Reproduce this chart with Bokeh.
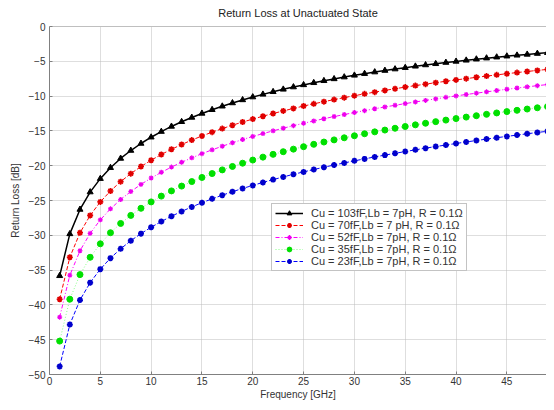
from bokeh.plotting import figure
from bokeh.models import Range1d, Legend, LegendItem, FixedTicker, Span
from bokeh.embed import file_html
from bokeh.resources import INLINE

freq_ghz = list(range(1, 51))

rl_103ff = [-35.82, -29.80, -26.29, -23.79, -21.86, -20.29, -18.96, -17.82, -16.81, -15.91,
            -15.10, -14.36, -13.69, -13.07, -12.49, -11.96, -11.46, -10.99, -10.55, -10.14,
            -9.75, -9.38, -9.03, -8.70, -8.39, -8.09, -7.80, -7.53, -7.27, -7.02,
            -6.78, -6.55, -6.33, -6.12, -5.92, -5.72, -5.53, -5.36, -5.18, -5.02,
            -4.86, -4.70, -4.55, -4.41, -4.27, -4.14, -4.01, -3.89, -3.77, -3.65]
rl_70ff = [-39.18, -33.16, -29.64, -27.14, -25.20, -23.63, -22.29, -21.14, -20.12, -19.21,
           -18.39, -17.64, -16.96, -16.32, -15.73, -15.18, -14.67, -14.18, -13.73, -13.30,
           -12.89, -12.50, -12.13, -11.77, -11.43, -11.11, -10.80, -10.50, -10.22, -9.94,
           -9.68, -9.43, -9.18, -8.94, -8.71, -8.49, -8.28, -8.07, -7.87, -7.67,
           -7.49, -7.30, -7.13, -6.95, -6.78, -6.62, -6.46, -6.31, -6.16, -6.01]
rl_52ff = [-41.76, -35.74, -32.22, -29.72, -27.78, -26.20, -24.86, -23.71, -22.69, -21.77,
           -20.95, -20.20, -19.51, -18.87, -18.27, -17.72, -17.20, -16.71, -16.24, -15.80,
           -15.39, -14.99, -14.61, -14.25, -13.90, -13.57, -13.25, -12.94, -12.65, -12.36,
           -12.09, -11.82, -11.56, -11.32, -11.08, -10.84, -10.62, -10.40, -10.18, -9.97,
           -9.77, -9.58, -9.39, -9.20, -9.02, -8.84, -8.67, -8.50, -8.34, -8.18]
rl_35ff = [-45.20, -39.18, -35.65, -33.16, -31.22, -29.63, -28.30, -27.14, -26.12, -25.20,
           -24.37, -23.62, -22.93, -22.28, -21.69, -21.13, -20.60, -20.11, -19.64, -19.19,
           -18.77, -18.37, -17.99, -17.62, -17.27, -16.93, -16.60, -16.29, -15.99, -15.70,
           -15.41, -15.14, -14.88, -14.62, -14.37, -14.13, -13.90, -13.67, -13.45, -13.23,
           -13.02, -12.82, -12.62, -12.42, -12.23, -12.04, -11.86, -11.68, -11.51, -11.34]
rl_23ff = [-48.84, -42.82, -39.30, -36.80, -34.86, -33.28, -31.94, -30.78, -29.76, -28.84,
           -28.02, -27.26, -26.57, -25.92, -25.32, -24.76, -24.24, -23.74, -23.27, -22.83,
           -22.40, -22.00, -21.61, -21.24, -20.89, -20.55, -20.22, -19.90, -19.60, -19.30,
           -19.02, -18.74, -18.48, -18.22, -17.97, -17.72, -17.48, -17.25, -17.03, -16.81,
           -16.59, -16.38, -16.18, -15.98, -15.79, -15.60, -15.41, -15.23, -15.05, -14.87]

labels = ["Cu = 103fF,Lb = 7pH, R = 0.1\u03a9",
          "Cu = 70fF,Lb = 7 pH, R = 0.1\u03a9",
          "Cu = 52fF,Lb = 7pH, R = 0.1\u03a9",
          "Cu = 35fF,Lb = 7pH, R = 0.1\u03a9",
          "Cu = 23fF,Lb = 7pH, R = 0.1\u03a9"]
x_ticks = [0, 5, 10, 15, 20, 25, 30, 35, 40, 45, 50]
y_ticks = [0, -5, -10, -15, -20, -25, -30, -35, -40, -45, -50]

FONT = "Liberation Sans"
AXIS_GRAY = "#808080"

p = figure(width=546, height=402, output_backend="svg", toolbar_location=None,
           x_range=Range1d(0, 48.9), y_range=Range1d(-50, 0),
           min_border_left=49, min_border_right=0, min_border_top=26, min_border_bottom=24,
           title="Return Loss at Unactuated State")
p.title.align = "center"
p.title.vertical_align = "top"
p.title.text_font = FONT
p.title.text_font_size = "11px"
p.title.text_font_style = "normal"
p.title.text_color = "#222222"
p.title.standoff = 11

p.outline_line_color = None

for ax in (p.xaxis[0], p.yaxis[0]):
    ax.major_label_text_font = FONT
    ax.major_label_text_font_size = "10px"
    ax.major_label_text_color = "#333333"
    ax.axis_label_text_font = FONT
    ax.axis_label_text_font_size = "10px"
    ax.axis_label_text_font_style = "normal"
    ax.axis_label_text_color = "#333333"
    ax.axis_line_color = AXIS_GRAY
    ax.major_tick_line_color = AXIS_GRAY
    ax.major_tick_in = 3
    ax.major_tick_out = 0
    ax.minor_tick_line_color = None

p.xaxis.major_label_standoff = 2
p.xaxis.axis_label_standoff = 1
p.yaxis.major_label_standoff = 4
p.yaxis.axis_label_standoff = 5

p.xaxis.ticker = FixedTicker(ticks=x_ticks)
p.yaxis.ticker = FixedTicker(ticks=y_ticks)
p.xaxis.axis_label = "Frequency [GHz]"
p.yaxis.axis_label = "Return Loss [dB]"

p.xgrid.ticker = FixedTicker(ticks=x_ticks)
p.ygrid.ticker = FixedTicker(ticks=y_ticks)
p.grid.grid_line_color = "#bdbdbd"
p.grid.grid_line_dash = "1 1"
p.grid.grid_line_width = 1

p.add_layout(Span(location=0, dimension="width", line_color=AXIS_GRAY, line_width=1))

items = []

l1 = p.line(freq_ghz, rl_103ff, line_color="black", line_width=1.5)
s1 = p.scatter(freq_ghz, rl_103ff, marker="triangle", size=6, fill_color="black", line_color="black")
items.append(LegendItem(label=labels[0], renderers=[l1, s1]))

l2 = p.line(freq_ghz, rl_70ff, line_color="#ff0000", line_width=1, line_dash="4 2")
s2 = p.scatter(freq_ghz, rl_70ff, marker="asterisk", size=6, line_color="#e00000", line_width=1.6)
items.append(LegendItem(label=labels[1], renderers=[l2, s2]))

l3 = p.line(freq_ghz, rl_52ff, line_color="#ff00ff", line_width=1, line_dash="4 2 1 2")
s3 = p.scatter(freq_ghz, rl_52ff, marker="asterisk", size=5, line_color="#ee00ee", line_width=1.2)
items.append(LegendItem(label=labels[2], renderers=[l3, s3]))

l4 = p.line(freq_ghz, rl_35ff, line_color="#00ff00", line_width=0.8, line_dash="1 2", line_alpha=0.6)
s4 = p.scatter(freq_ghz, rl_35ff, marker="circle", size=6, fill_color="#00e000", line_color="#00e000")
items.append(LegendItem(label=labels[3], renderers=[l4, s4]))

l5 = p.line(freq_ghz, rl_23ff, line_color="#0000ff", line_width=1, line_dash="4 2")
s5 = p.scatter(freq_ghz, rl_23ff, marker="asterisk", size=6, line_color="#0000cc", line_width=1.8)
items.append(LegendItem(label=labels[4], renderers=[l5, s5]))

legend = Legend(items=items, location=(222, 103))
legend.label_text_font = FONT
legend.label_text_font_size = "11px"
legend.label_text_color = "#333333"
legend.label_height = 12
legend.glyph_height = 12
legend.glyph_width = 28
legend.spacing = 0
legend.padding = 3
legend.margin = 0
legend.label_standoff = 8
legend.border_line_color = "#888888"
legend.background_fill_color = "white"
legend.background_fill_alpha = 1.0
p.add_layout(legend, "center")

open("out.html", "w").write(file_html(p, INLINE))
